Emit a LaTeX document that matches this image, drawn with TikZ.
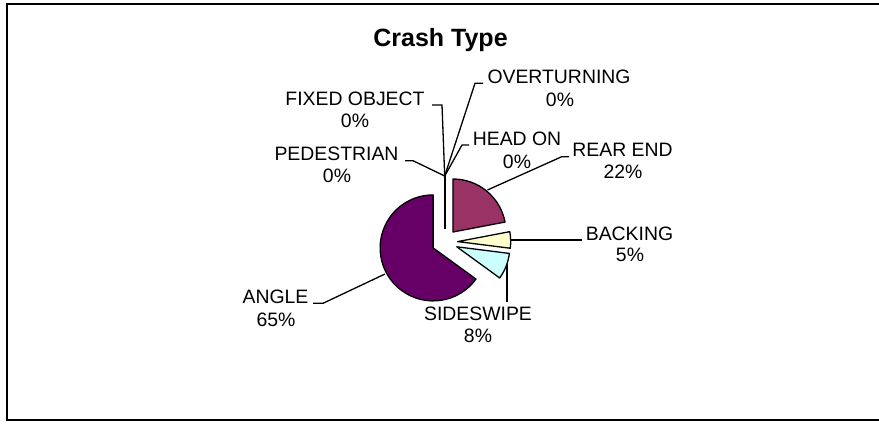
\documentclass[tikz,border=0pt]{standalone}
\usepackage{fontspec}
\setmainfont{Liberation Sans}
\definecolor{cRear}{HTML}{993366}
\definecolor{cBack}{HTML}{FFFFCC}
\definecolor{cSide}{HTML}{CCFFFF}
\definecolor{cAngle}{HTML}{660066}
\begin{document}
\begin{tikzpicture}[x=1bp,y=-1bp,
  lbl/.style={inner sep=0pt,anchor=base,font=\fontsize{19.4bp}{22bp}\selectfont},
  ttl/.style={inner sep=0pt,anchor=base,font=\fontsize{25bp}{30bp}\selectfont\bfseries},
  slice/.style={draw=black,line width=1.3bp,line join=round},
  leader/.style={draw=black,line width=1.3bp}]
\useasboundingbox (0,0) rectangle (879,424);
\fill[white] (0,0) rectangle (879,424);
\draw[line width=2bp] (7,3.5) rectangle (884,420);
% title
\node[ttl] (title) at (440.5,46.7) {Crash Type};
% pie
\begin{scope}[shift={(444.7,242)},y=1bp]
  \draw[slice,fill=cRear] (50.4:13) -- ++(90:53) arc[start angle=90,end angle=10.8,radius=53] -- cycle;
  \draw[slice,fill=cBack] (1.8:13) -- ++(10.8:53) arc[start angle=10.8,end angle=-7.2,radius=53] -- cycle;
  \draw[slice,fill=cSide] (-21.6:13) -- ++(-7.2:53) arc[start angle=-7.2,end angle=-36,radius=53] -- cycle;
  \draw[slice,fill=cAngle] (-153:13) -- ++(-36:53) arc[start angle=-36,end angle=-270,radius=53] -- cycle;
  \coordinate (zeroA) at (90:13);
  \coordinate (zeroB) at (90:66);
\end{scope}
\draw[line width=2.2bp] (zeroA) -- (zeroB);
% labels
\node[lbl] (pedL) at (336.5,160.7) {PEDESTRIAN};
\node[lbl] (pedP) at (337,182.7) {0\%};
\node[lbl] (fixL) at (355,105) {FIXED OBJECT};
\node[lbl] (fixP) at (355,127) {0\%};
\node[lbl] (ovtL) at (559,83.3) {OVERTURNING};
\node[lbl] (ovtP) at (560,106) {0\%};
\node[lbl] (headL) at (517,145) {HEAD ON};
\node[lbl] (headP) at (517,168) {0\%};
\node[lbl] (rearL) at (622.5,156.7) {REAR END};
\node[lbl] (rearP) at (623,178.3) {22\%};
\node[lbl] (backL) at (629.5,240) {BACKING};
\node[lbl] (backP) at (630,261) {5\%};
\node[lbl] (sideL) at (478,320) {SIDESWIPE};
\node[lbl] (sideP) at (478,342.7) {8\%};
\node[lbl] (angL) at (275.5,303.3) {ANGLE};
\node[lbl] (angP) at (276,326.7) {65\%};
% leader coordinates
\coordinate (pedB) at (413,160.7);   \coordinate (pedC) at (405,160.7);
\coordinate (fixB) at (442,105);     \coordinate (fixC) at (432,105);
\coordinate (ovtB) at (475,83.3);    \coordinate (ovtC) at (483,83.3);
\coordinate (headB) at (462,145);    \coordinate (headC) at (469,145);
\coordinate (rearA) at (487.5,190);  \coordinate (rearB) at (561.7,156.7); \coordinate (rearC) at (569,156.7);
\coordinate (backA) at (510.7,240);  \coordinate (backC) at (582,240);
\coordinate (sideA) at (507,264);    \coordinate (sideC) at (507,302);
\coordinate (angA) at (385,274);     \coordinate (angB) at (323,303.3); \coordinate (angC) at (313,303.3);
% leaders
\draw[leader] (zeroB) -- (pedB) -- (pedC);
\draw[leader] (zeroB) -- (fixB) -- (fixC);
\draw[leader] (zeroB) -- (ovtB) -- (ovtC);
\draw[leader] (zeroB) -- (headB) -- (headC);
\draw[leader] (rearA) -- (rearB) -- (rearC);
\draw[leader] (backA) -- (backC);
\draw[leader,line width=2.6bp] (sideA) -- (sideC);
\draw[leader] (angA) -- (angB) -- (angC);
\end{tikzpicture}
\end{document}
